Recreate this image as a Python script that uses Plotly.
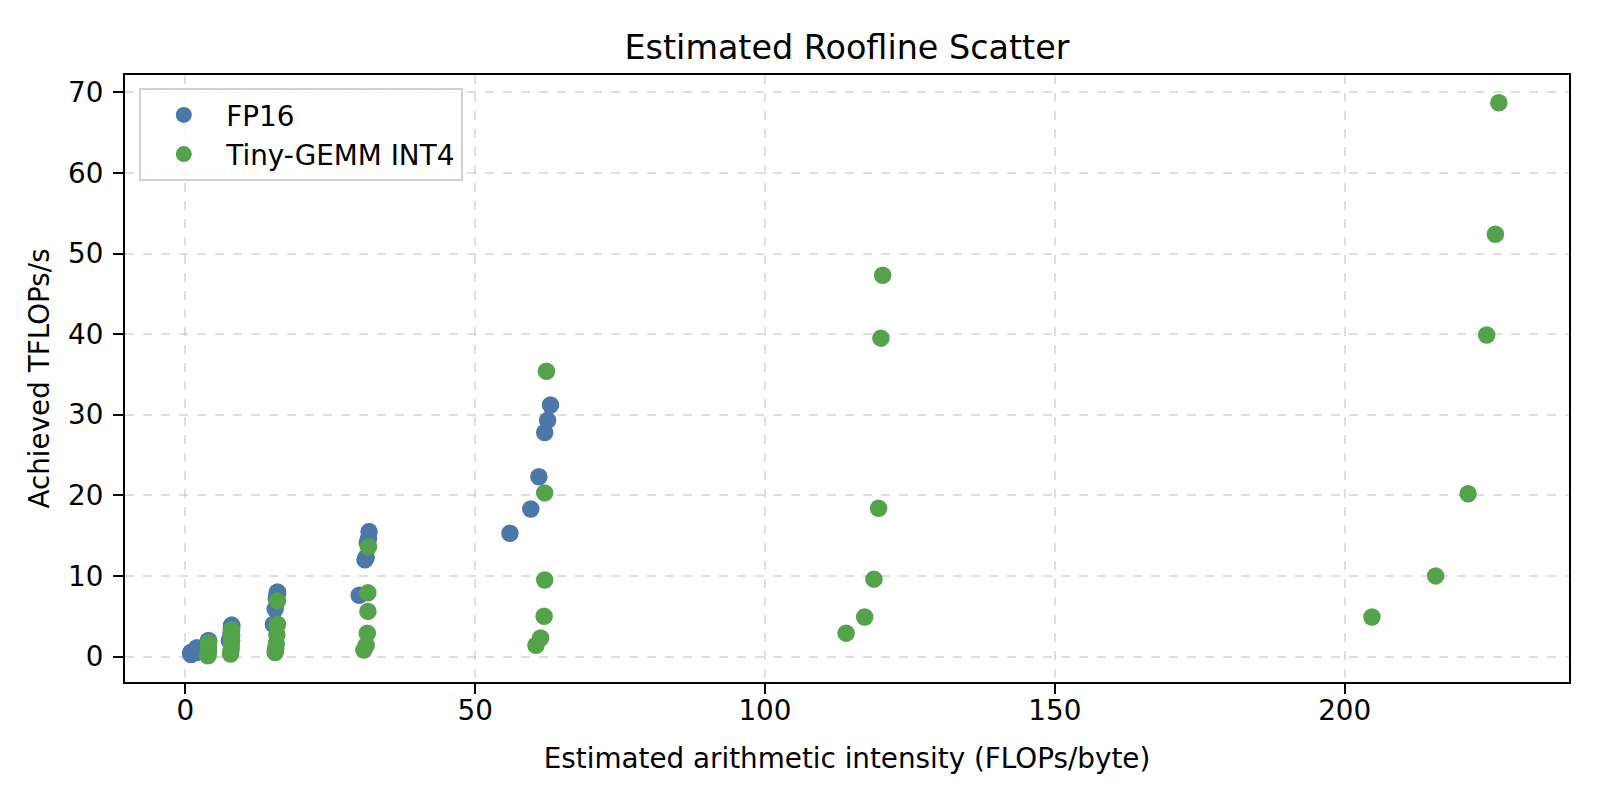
import plotly.graph_objects as go

# FP16 series
fp16_x = [0.98, 0.99, 1.0, 1.0, 1.0, 1.0,
          1.9, 1.95, 1.98, 2.0, 2.0, 2.0,
          3.8, 3.9, 3.95, 4.0, 4.0, 4.0,
          7.6, 7.8, 7.9, 7.95, 8.0, 8.0,
          15.2, 15.5, 15.7, 15.8, 15.9, 15.9,
          30.0, 31.0, 31.2, 31.4, 31.6, 31.7,
          56.0, 59.6, 61.0, 62.0, 62.5, 63.0]
fp16_y = [0.25, 0.37, 0.45, 0.48, 0.5, 0.5,
          0.5, 0.75, 0.9, 0.95, 1.0, 1.1,
          1.0, 1.4, 1.7, 1.8, 1.9, 2.0,
          2.0, 2.3, 3.0, 3.6, 3.8, 3.9,
          4.0, 5.9, 7.2, 7.6, 7.8, 8.0,
          7.6, 12.0, 12.3, 14.1, 14.6, 15.5,
          15.3, 18.3, 22.3, 27.8, 29.3, 31.2]

# Tiny-GEMM INT4 series
int4_x = [3.9, 3.95, 3.97, 4.0, 4.0, 4.0,
          7.8, 7.9, 7.95, 8.0, 8.0, 8.0,
          15.5, 15.6, 15.7, 15.8, 15.9, 15.9,
          30.8, 31.2, 31.4, 31.5, 31.5, 31.6,
          60.5, 61.3, 61.9, 62.0, 62.0, 62.3,
          114.0, 117.2, 118.8, 119.6, 120.0, 120.3,
          204.7, 215.7, 221.3, 224.5, 226.0, 226.6]
int4_y = [0.1, 0.3, 0.6, 0.9, 1.3, 1.7,
          0.3, 0.8, 1.4, 2.0, 2.6, 3.3,
          0.5, 1.0, 1.6, 2.7, 4.0, 6.9,
          0.8, 1.4, 2.9, 5.6, 7.9, 13.6,
          1.4, 2.3, 5.0, 9.5, 20.3, 35.4,
          2.9, 4.9, 9.6, 18.4, 39.5, 47.3,
          4.9, 10.0, 20.2, 39.9, 52.4, 68.7]

x_ticks = [0, 50, 100, 150, 200]
y_ticks = [0, 10, 20, 30, 40, 50, 60, 70]

FONT = "DejaVu Sans"
LBL = 27.8

fig = go.Figure()
fig.add_trace(go.Scatter(
    x=fp16_x, y=fp16_y, mode="markers", name="FP16",
    marker=dict(color="#4c78a8", size=17.5, line=dict(width=0)),
))
fig.add_trace(go.Scatter(
    x=int4_x, y=int4_y, mode="markers", name="Tiny-GEMM INT4",
    marker=dict(color="#54a24b", size=17.5, line=dict(width=0)),
))

axis_common = dict(
    showline=True, linecolor="black", linewidth=2.2, mirror=True,
    ticks="outside", ticklen=10, tickwidth=2.2, tickcolor="black",
    showgrid=True, gridcolor="rgba(176,176,176,0.4)", gridwidth=1.6, griddash="dash",
    zeroline=False,
    tickfont=dict(family=FONT, size=LBL, color="black"),
)

fig.update_xaxes(
    range=[-10.4, 238.7], tickvals=x_ticks, ticklabelstandoff=-7,
    title=dict(text="Estimated arithmetic intensity (FLOPs/byte)",
               font=dict(family=FONT, size=LBL, color="black"), standoff=22),
    **axis_common,
)
fig.update_yaxes(
    range=[-3.16, 72.15], tickvals=y_ticks, ticklabelstandoff=4,
    title=dict(text="Achieved TFLOPs/s",
               font=dict(family=FONT, size=LBL, color="black"), standoff=10),
    **axis_common,
)

fig.update_layout(
    width=1610, height=796,
    paper_bgcolor="white", plot_bgcolor="white",
    margin=dict(l=116.5, r=48.6, t=66.5, b=122.4),
    title=dict(text="Estimated Roofline Scatter", x=0.5, xanchor="center",
               xref="paper", y=0.9511, yanchor="middle",
               font=dict(family=FONT, size=33.4, color="black")),
    legend=dict(x=0.0099, y=0.978, xanchor="left", yanchor="top",
                bgcolor="rgba(255,255,255,0.85)", bordercolor="#d0d0d0", borderwidth=2,
                font=dict(family=FONT, size=LBL, color="black"),
                itemsizing="trace", itemwidth=75, tracegroupgap=6),
    showlegend=True,
)

fig.write_html("out.html")
